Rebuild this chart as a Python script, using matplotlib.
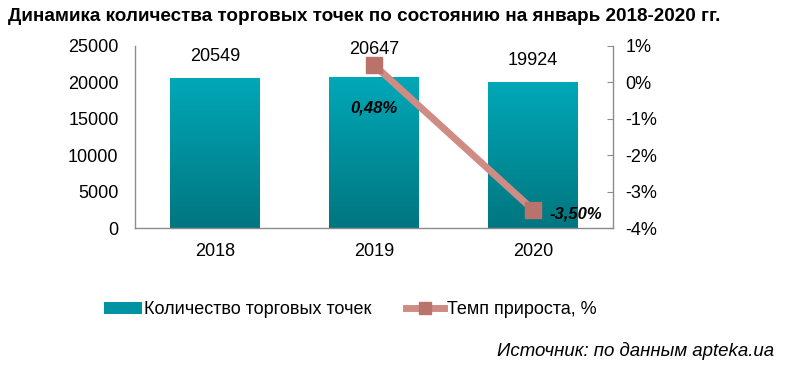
import numpy as np
import matplotlib
matplotlib.use("Agg")
import matplotlib.pyplot as plt
from matplotlib.colors import LinearSegmentedColormap
from matplotlib.lines import Line2D
from matplotlib.patches import Patch

plt.rcParams["font.family"] = ["Liberation Sans", "DejaVu Sans"]

years = ["2018", "2019", "2020"]
points = [20549, 20647, 19924]
growth_years = [1, 2]  # index into years
growth = [0.48, -3.50]
growth_labels = ["0,48%", "-3,50%"]

TEAL_TOP, TEAL_BOT = "#00A8B8", "#00767F"
ROSE, ROSE_DARK = "#CF8C84", "#BA736B"
GREY = "#8C8C8C"

fig = plt.figure(figsize=(8, 3.65), dpi=100)
ax = fig.add_axes([0.169, 0.375, 0.597, 0.499])
ax2 = ax.twinx()

# bars with vertical gradient
x = np.arange(len(years))
W = 0.565
grad = LinearSegmentedColormap.from_list("teal", [TEAL_BOT, TEAL_TOP])
img = np.linspace(0, 1, 256).reshape(-1, 1)
val_off = [10, 14.5, 10]  # label lift above bar, points
for xi, v, dy in zip(x, points, val_off):
    ax.imshow(img, cmap=grad, origin="lower", aspect="auto",
              extent=(xi - W / 2, xi + W / 2, 0, v), zorder=2)
    ax.annotate(f"{v}", (xi, v), xytext=(0, dy), textcoords="offset points",
                ha="center", va="bottom", fontsize=13, zorder=5)
ax.set_xlim(-0.5, 2.5)
ax.set_ylim(0, 25000)
ax.set_yticks(range(0, 25001, 5000))
ax.set_xticks(x, years)

# growth line on right axis
ax2.plot(growth_years, growth, color=ROSE, lw=5, solid_capstyle="butt",
         marker="s", ms=12, mfc=ROSE_DARK, mec=ROSE_DARK, zorder=4)
ax2.set_ylim(-4, 1)
ax2.set_yticks(range(-4, 2))
ax2.set_yticklabels([f"{t}%" for t in range(-4, 2)])
offs = [(0, -31, "center"), (12, -3, "left")]
for gi, g, lab, (dx, dy, ha) in zip(growth_years, growth, growth_labels, offs):
    ax2.annotate(lab, (gi, g), xytext=(dx, dy), textcoords="offset points",
                 ha=ha, va="center", fontsize=12, fontweight="bold",
                 fontstyle="italic", zorder=6)

for a in (ax, ax2):
    for s in a.spines.values():
        s.set_visible(False)
ax.spines["left"].set_visible(True)
ax.spines["bottom"].set_visible(True)
ax2.spines["right"].set_visible(True)
for s in (ax.spines["left"], ax.spines["bottom"], ax2.spines["right"]):
    s.set_color(GREY)
    s.set_linewidth(1)
ax.tick_params(axis="y", length=0, pad=12, labelsize=13)
ax.tick_params(axis="x", length=0, pad=11, labelsize=13)
ax2.tick_params(axis="y", direction="in", length=4, color=GREY, pad=9,
                labelsize=13)

fig.text(0.01, 0.955, "Динамика количества торговых точек по состоянию на январь 2018-2020 гг.",
         fontsize=13.6, fontweight="bold", va="center",
         family=["Liberation Sans Narrow", "Liberation Sans", "DejaVu Sans"])

handles = [Patch(facecolor="#0094A2", edgecolor="none"),
           Line2D([], [], color=ROSE, lw=5, marker="s", ms=8,
                  mfc=ROSE_DARK, mec=ROSE_DARK)]
fig.legend(handles, ["Количество торговых точек", "Темп прироста, %"],
           loc="center", bbox_to_anchor=(0.4375, 0.151), ncol=2, frameon=False,
           fontsize=13, handlelength=2.1, handletextpad=0.15, columnspacing=1.9)

fig.text(0.968, 0.037, "Источник: по данным apteka.ua", fontsize=13.4,
         fontstyle="italic", ha="right", va="center")

fig.savefig("out.png", dpi=100)
